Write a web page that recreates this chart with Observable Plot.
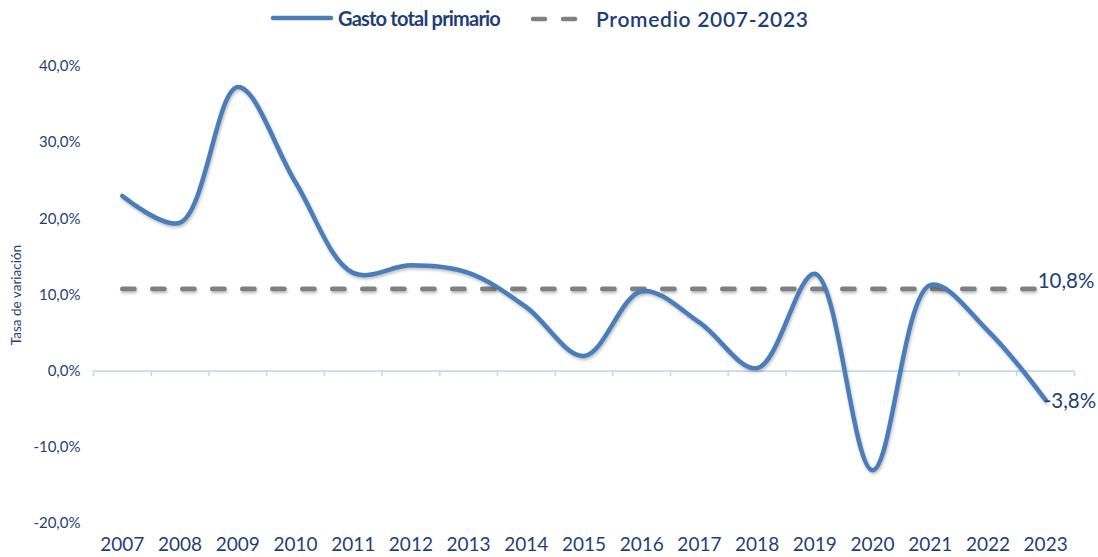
<!DOCTYPE html>
<html>
<head>
<meta charset="utf-8">
<script src="https://cdn.jsdelivr.net/npm/d3@7"></script>
<script src="https://cdn.jsdelivr.net/npm/@observablehq/plot@0.6"></script>
<style>
  html, body { margin: 0; padding: 0; background: #ffffff; }
  #wrap { position: relative; width: 1098px; height: 557px; font-family: "Lato", sans-serif; color: #1f3f77; }
  #legend { position: relative; height: 38px; }
  .lg { position: absolute; top: 6px; display: flex; align-items: center; font-weight: 700; font-size: 20px; color: #1f3f77; white-space: nowrap; }
  .lg svg { margin-right: 4px; }
  #chart svg g[aria-label="line"] path { filter: drop-shadow(1px 2px 1.5px rgba(0,0,0,0.25)); }
</style>
</head>
<body>
<div id="wrap">
  <div id="legend"></div>
  <div id="chart"></div>
</div>
<script>
const years = [2007, 2008, 2009, 2010, 2011, 2012, 2013, 2014, 2015, 2016, 2017, 2018, 2019, 2020, 2021, 2022, 2023];
const gasto = [23.0, 19.5, 37.3, 24.8, 12.9, 13.9, 12.9, 8.4, 2.0, 10.5, 6.4, 0.4, 12.8, -13.0, 11.3, 5.3, -3.8];
const promedio = 10.8;
const yTicks = [-20, -10, 0, 10, 20, 30, 40];
const seriesNames = ["Gasto total primario", "Promedio 2007-2023"];
const yTitle = "Tasa de variación";

const blue = "#4a7ebb";
const gray = "#808080";
const navy = "#1f3f77";

const fmt1 = d => d.toFixed(1).replace(".", ",") + "%";

const rows = years.map((y, i) => ({year: y, value: gasto[i]}));
const avgRows = [years[0], years[years.length - 1]].map(y => ({year: y, value: promedio}));
const bounds = years.map(y => y - 0.5).concat([years[years.length - 1] + 0.5]);
const last = rows[rows.length - 1];

// Legend
const legend = document.getElementById("legend");
legend.innerHTML = `
  <div class="lg" style="left:270px">
    <svg width="64" height="8"><line x1="3" y1="4" x2="61" y2="4" stroke="${blue}" stroke-width="4.5" stroke-linecap="round"/></svg>
    <span style="letter-spacing:-0.8px">${seriesNames[0]}</span>
  </div>
  <div class="lg" style="left:530px">
    <svg width="62" height="8"><line x1="3" y1="4" x2="60" y2="4" stroke="${gray}" stroke-width="4.5" stroke-linecap="round" stroke-dasharray="12,18"/></svg>
    <span style="letter-spacing:0.7px;font-weight:600;font-size:21px">${seriesNames[1]}</span>
  </div>`;

const chart = Plot.plot({
  width: 1098,
  height: 519,
  marginLeft: 93,
  marginRight: 24,
  marginTop: 28,
  marginBottom: 34,
  style: {fontFamily: "Lato, sans-serif", color: navy, background: "#ffffff", overflow: "visible"},
  x: {type: "linear", domain: [years[0] - 0.5, years[years.length - 1] + 0.5]},
  y: {domain: [yTicks[0], yTicks[yTicks.length - 1]]},
  marks: [
    Plot.axisX({ticks: years, tickFormat: d => String(d), tickSize: 0, tickPadding: 14, fontSize: 19, label: null, fill: navy}),
    Plot.axisY({ticks: yTicks, tickFormat: fmt1, tickSize: 0, tickPadding: 13, fontSize: 15, label: null, fill: navy}),
    Plot.text([yTitle], {frameAnchor: "left", rotate: -90, dx: -77, textAnchor: "middle", lineAnchor: "middle", fontSize: 13.5, fill: navy}),
    Plot.ruleY([0], {stroke: "#c6d8f0", strokeWidth: 1.6}),
    Plot.ruleX(bounds, {x: d => d, y1: 0, y2: -0.7, stroke: "#c6d8f0", strokeWidth: 1.6}),
    Plot.line(avgRows, {x: "year", y: "value", stroke: gray, strokeWidth: 4.8, strokeLinecap: "round", strokeDasharray: "12,18"}),
    Plot.line(rows, {x: "year", y: "value", stroke: blue, strokeWidth: 4.5, curve: "catmull-rom", strokeLinecap: "round", strokeLinejoin: "round"}),
    Plot.text([promedio], {x: years[years.length - 1], y: d => d, text: d => fmt1(d), textAnchor: "start", dx: -8, dy: -7, fontSize: 20.5, fill: navy}),
    Plot.text([last], {x: "year", y: "value", text: d => fmt1(d.value), textAnchor: "start", dx: -2, dy: 1, fontSize: 20.5, fill: navy})
  ]
});
document.getElementById("chart").appendChild(chart);
</script>
</body>
</html>
